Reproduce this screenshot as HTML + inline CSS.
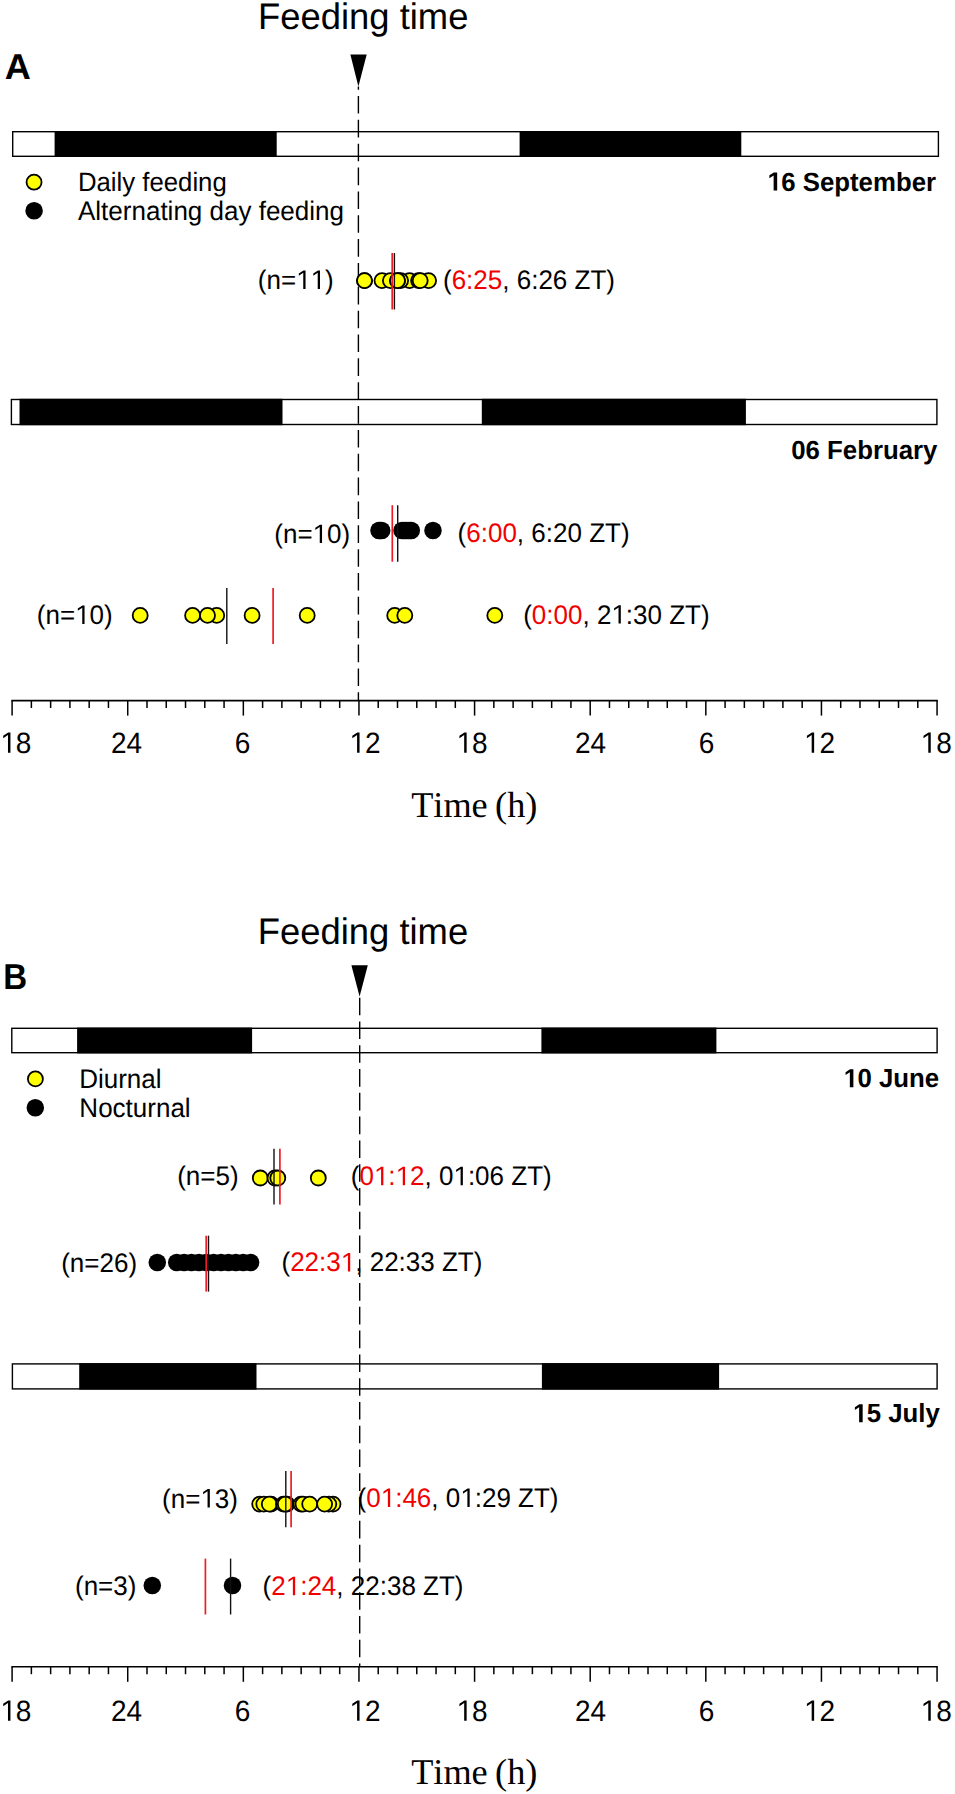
<!DOCTYPE html>
<html><head><meta charset="utf-8"><style>
html,body{margin:0;padding:0;background:#fff;overflow:hidden;}
svg{display:block;}
text{font-family:"Liberation Sans", sans-serif;fill:#000;text-rendering:geometricPrecision;font-kerning:none;}
</style></head><body>
<svg width="955" height="1794" viewBox="0 0 955 1794">
<rect width="955" height="1794" fill="#fff"/>
<polygon points="350.40,54.60 366.70,54.60 358.40,86.40" fill="#000"/>
<line x1="358.40" y1="86.40" x2="358.40" y2="700.60" stroke="#000" stroke-width="1.4" stroke-dasharray="17.6 6.25" stroke-dashoffset="14.27"/>
<rect x="54.60" y="131.00" width="222.10" height="26.00" fill="#000"/>
<rect x="519.60" y="131.00" width="221.70" height="26.00" fill="#000"/>
<rect x="12.70" y="131.70" width="925.70" height="24.60" fill="none" stroke="#000" stroke-width="1.4"/>
<rect x="19.50" y="398.80" width="263.00" height="26.40" fill="#000"/>
<rect x="481.80" y="398.80" width="264.10" height="26.40" fill="#000"/>
<rect x="11.40" y="399.50" width="925.50" height="25.00" fill="none" stroke="#000" stroke-width="1.4"/>
<circle cx="34.05" cy="182.20" r="7.5" fill="#ffff00" stroke="#000" stroke-width="1.8"/>
<circle cx="34.10" cy="210.80" r="8.75" fill="#000"/>
<circle cx="364.50" cy="280.60" r="7.5" fill="#ffff00" stroke="#000" stroke-width="1.8"/>
<circle cx="382.00" cy="280.60" r="7.5" fill="#ffff00" stroke="#000" stroke-width="1.8"/>
<circle cx="390.40" cy="280.60" r="7.5" fill="#ffff00" stroke="#000" stroke-width="1.8"/>
<circle cx="409.50" cy="280.60" r="7.5" fill="#ffff00" stroke="#000" stroke-width="1.8"/>
<circle cx="400.60" cy="280.60" r="7.5" fill="#ffff00" stroke="#000" stroke-width="1.8"/>
<circle cx="397.50" cy="280.60" r="7.5" fill="#ffff00" stroke="#000" stroke-width="1.8"/>
<circle cx="397.50" cy="280.60" r="7.5" fill="#ffff00" stroke="#000" stroke-width="1.8"/>
<circle cx="428.60" cy="280.60" r="7.5" fill="#ffff00" stroke="#000" stroke-width="1.8"/>
<circle cx="418.60" cy="280.60" r="7.5" fill="#ffff00" stroke="#000" stroke-width="1.8"/>
<circle cx="420.20" cy="280.60" r="7.5" fill="#ffff00" stroke="#000" stroke-width="1.8"/>
<circle cx="364.50" cy="280.60" r="7.5" fill="#ffff00" stroke="#000" stroke-width="1.8"/>
<line x1="392.20" y1="253.00" x2="392.20" y2="309.50" stroke="#ee1c24" stroke-width="1.7" />
<line x1="394.40" y1="253.00" x2="394.40" y2="309.50" stroke="#111" stroke-width="1.4" />
<circle cx="379.00" cy="530.50" r="8.75" fill="#000"/>
<circle cx="381.70" cy="530.50" r="8.75" fill="#000"/>
<circle cx="402.00" cy="530.50" r="8.75" fill="#000"/>
<circle cx="404.00" cy="530.50" r="8.75" fill="#000"/>
<circle cx="406.00" cy="530.50" r="8.75" fill="#000"/>
<circle cx="408.00" cy="530.50" r="8.75" fill="#000"/>
<circle cx="410.00" cy="530.50" r="8.75" fill="#000"/>
<circle cx="411.30" cy="530.50" r="8.75" fill="#000"/>
<circle cx="433.00" cy="530.50" r="8.75" fill="#000"/>
<circle cx="380.00" cy="530.50" r="8.75" fill="#000"/>
<line x1="392.30" y1="505.20" x2="392.30" y2="561.70" stroke="#ee1c24" stroke-width="1.7" />
<line x1="397.70" y1="505.20" x2="397.70" y2="561.70" stroke="#111" stroke-width="1.4" />
<circle cx="140.20" cy="615.40" r="7.5" fill="#ffff00" stroke="#000" stroke-width="1.8"/>
<circle cx="192.60" cy="615.40" r="7.5" fill="#ffff00" stroke="#000" stroke-width="1.8"/>
<circle cx="216.70" cy="615.40" r="7.5" fill="#ffff00" stroke="#000" stroke-width="1.8"/>
<circle cx="207.50" cy="615.40" r="7.5" fill="#ffff00" stroke="#000" stroke-width="1.8"/>
<circle cx="252.10" cy="615.40" r="7.5" fill="#ffff00" stroke="#000" stroke-width="1.8"/>
<circle cx="307.20" cy="615.40" r="7.5" fill="#ffff00" stroke="#000" stroke-width="1.8"/>
<circle cx="394.70" cy="615.40" r="7.5" fill="#ffff00" stroke="#000" stroke-width="1.8"/>
<circle cx="404.80" cy="615.40" r="7.5" fill="#ffff00" stroke="#000" stroke-width="1.8"/>
<circle cx="494.80" cy="615.40" r="7.5" fill="#ffff00" stroke="#000" stroke-width="1.8"/>
<line x1="273.10" y1="588.10" x2="273.10" y2="643.90" stroke="#ee1c24" stroke-width="1.7" />
<line x1="226.80" y1="588.10" x2="226.80" y2="643.90" stroke="#111" stroke-width="1.4" />
<line x1="11.35" y1="700.60" x2="937.81" y2="700.60" stroke="#000" stroke-width="1.6" />
<line x1="12.10" y1="700.60" x2="12.10" y2="715.60" stroke="#000" stroke-width="1.5" />
<line x1="31.37" y1="700.60" x2="31.37" y2="708.00" stroke="#000" stroke-width="1.5" />
<line x1="50.64" y1="700.60" x2="50.64" y2="708.00" stroke="#000" stroke-width="1.5" />
<line x1="69.91" y1="700.60" x2="69.91" y2="708.00" stroke="#000" stroke-width="1.5" />
<line x1="89.18" y1="700.60" x2="89.18" y2="708.00" stroke="#000" stroke-width="1.5" />
<line x1="108.45" y1="700.60" x2="108.45" y2="708.00" stroke="#000" stroke-width="1.5" />
<line x1="127.72" y1="700.60" x2="127.72" y2="715.60" stroke="#000" stroke-width="1.5" />
<line x1="146.99" y1="700.60" x2="146.99" y2="708.00" stroke="#000" stroke-width="1.5" />
<line x1="166.26" y1="700.60" x2="166.26" y2="708.00" stroke="#000" stroke-width="1.5" />
<line x1="185.53" y1="700.60" x2="185.53" y2="708.00" stroke="#000" stroke-width="1.5" />
<line x1="204.80" y1="700.60" x2="204.80" y2="708.00" stroke="#000" stroke-width="1.5" />
<line x1="224.07" y1="700.60" x2="224.07" y2="708.00" stroke="#000" stroke-width="1.5" />
<line x1="243.34" y1="700.60" x2="243.34" y2="715.60" stroke="#000" stroke-width="1.5" />
<line x1="262.61" y1="700.60" x2="262.61" y2="708.00" stroke="#000" stroke-width="1.5" />
<line x1="281.88" y1="700.60" x2="281.88" y2="708.00" stroke="#000" stroke-width="1.5" />
<line x1="301.15" y1="700.60" x2="301.15" y2="708.00" stroke="#000" stroke-width="1.5" />
<line x1="320.42" y1="700.60" x2="320.42" y2="708.00" stroke="#000" stroke-width="1.5" />
<line x1="339.69" y1="700.60" x2="339.69" y2="708.00" stroke="#000" stroke-width="1.5" />
<line x1="358.96" y1="700.60" x2="358.96" y2="715.60" stroke="#000" stroke-width="1.5" />
<line x1="378.23" y1="700.60" x2="378.23" y2="708.00" stroke="#000" stroke-width="1.5" />
<line x1="397.50" y1="700.60" x2="397.50" y2="708.00" stroke="#000" stroke-width="1.5" />
<line x1="416.77" y1="700.60" x2="416.77" y2="708.00" stroke="#000" stroke-width="1.5" />
<line x1="436.04" y1="700.60" x2="436.04" y2="708.00" stroke="#000" stroke-width="1.5" />
<line x1="455.31" y1="700.60" x2="455.31" y2="708.00" stroke="#000" stroke-width="1.5" />
<line x1="474.58" y1="700.60" x2="474.58" y2="715.60" stroke="#000" stroke-width="1.5" />
<line x1="493.85" y1="700.60" x2="493.85" y2="708.00" stroke="#000" stroke-width="1.5" />
<line x1="513.12" y1="700.60" x2="513.12" y2="708.00" stroke="#000" stroke-width="1.5" />
<line x1="532.39" y1="700.60" x2="532.39" y2="708.00" stroke="#000" stroke-width="1.5" />
<line x1="551.66" y1="700.60" x2="551.66" y2="708.00" stroke="#000" stroke-width="1.5" />
<line x1="570.93" y1="700.60" x2="570.93" y2="708.00" stroke="#000" stroke-width="1.5" />
<line x1="590.20" y1="700.60" x2="590.20" y2="715.60" stroke="#000" stroke-width="1.5" />
<line x1="609.47" y1="700.60" x2="609.47" y2="708.00" stroke="#000" stroke-width="1.5" />
<line x1="628.74" y1="700.60" x2="628.74" y2="708.00" stroke="#000" stroke-width="1.5" />
<line x1="648.01" y1="700.60" x2="648.01" y2="708.00" stroke="#000" stroke-width="1.5" />
<line x1="667.28" y1="700.60" x2="667.28" y2="708.00" stroke="#000" stroke-width="1.5" />
<line x1="686.55" y1="700.60" x2="686.55" y2="708.00" stroke="#000" stroke-width="1.5" />
<line x1="705.82" y1="700.60" x2="705.82" y2="715.60" stroke="#000" stroke-width="1.5" />
<line x1="725.09" y1="700.60" x2="725.09" y2="708.00" stroke="#000" stroke-width="1.5" />
<line x1="744.36" y1="700.60" x2="744.36" y2="708.00" stroke="#000" stroke-width="1.5" />
<line x1="763.63" y1="700.60" x2="763.63" y2="708.00" stroke="#000" stroke-width="1.5" />
<line x1="782.90" y1="700.60" x2="782.90" y2="708.00" stroke="#000" stroke-width="1.5" />
<line x1="802.17" y1="700.60" x2="802.17" y2="708.00" stroke="#000" stroke-width="1.5" />
<line x1="821.44" y1="700.60" x2="821.44" y2="715.60" stroke="#000" stroke-width="1.5" />
<line x1="840.71" y1="700.60" x2="840.71" y2="708.00" stroke="#000" stroke-width="1.5" />
<line x1="859.98" y1="700.60" x2="859.98" y2="708.00" stroke="#000" stroke-width="1.5" />
<line x1="879.25" y1="700.60" x2="879.25" y2="708.00" stroke="#000" stroke-width="1.5" />
<line x1="898.52" y1="700.60" x2="898.52" y2="708.00" stroke="#000" stroke-width="1.5" />
<line x1="917.79" y1="700.60" x2="917.79" y2="708.00" stroke="#000" stroke-width="1.5" />
<line x1="937.06" y1="700.60" x2="937.06" y2="715.60" stroke="#000" stroke-width="1.5" />
<polygon points="351.40,965.30 367.80,965.30 359.60,996.40" fill="#000"/>
<line x1="359.70" y1="997.70" x2="359.70" y2="1666.80" stroke="#000" stroke-width="1.4" stroke-dasharray="17.6 6.18" stroke-dashoffset="0.00"/>
<rect x="77.10" y="1027.60" width="175.00" height="25.80" fill="#000"/>
<rect x="541.40" y="1027.60" width="175.00" height="25.80" fill="#000"/>
<rect x="11.80" y="1028.30" width="925.30" height="24.40" fill="none" stroke="#000" stroke-width="1.4"/>
<rect x="79.20" y="1363.20" width="177.30" height="26.40" fill="#000"/>
<rect x="541.90" y="1363.20" width="177.20" height="26.40" fill="#000"/>
<rect x="12.40" y="1363.90" width="924.70" height="25.00" fill="none" stroke="#000" stroke-width="1.4"/>
<circle cx="35.40" cy="1078.90" r="7.5" fill="#ffff00" stroke="#000" stroke-width="1.8"/>
<circle cx="35.30" cy="1107.70" r="8.75" fill="#000"/>
<circle cx="260.30" cy="1178.00" r="7.5" fill="#ffff00" stroke="#000" stroke-width="1.8"/>
<circle cx="275.00" cy="1178.00" r="7.5" fill="#ffff00" stroke="#000" stroke-width="1.8"/>
<circle cx="277.80" cy="1178.00" r="7.5" fill="#ffff00" stroke="#000" stroke-width="1.8"/>
<circle cx="318.30" cy="1178.00" r="7.5" fill="#ffff00" stroke="#000" stroke-width="1.8"/>
<line x1="279.90" y1="1148.80" x2="279.90" y2="1204.40" stroke="#ee1c24" stroke-width="1.7" />
<line x1="274.00" y1="1148.80" x2="274.00" y2="1204.40" stroke="#111" stroke-width="1.4" />
<circle cx="157.30" cy="1262.50" r="8.75" fill="#000"/>
<circle cx="176.70" cy="1262.50" r="8.75" fill="#000"/>
<circle cx="184.09" cy="1262.50" r="8.75" fill="#000"/>
<circle cx="191.48" cy="1262.50" r="8.75" fill="#000"/>
<circle cx="198.87" cy="1262.50" r="8.75" fill="#000"/>
<circle cx="206.26" cy="1262.50" r="8.75" fill="#000"/>
<circle cx="213.65" cy="1262.50" r="8.75" fill="#000"/>
<circle cx="221.04" cy="1262.50" r="8.75" fill="#000"/>
<circle cx="228.43" cy="1262.50" r="8.75" fill="#000"/>
<circle cx="235.82" cy="1262.50" r="8.75" fill="#000"/>
<circle cx="243.21" cy="1262.50" r="8.75" fill="#000"/>
<circle cx="250.60" cy="1262.50" r="8.75" fill="#000"/>
<line x1="206.20" y1="1235.70" x2="206.20" y2="1291.60" stroke="#ee1c24" stroke-width="1.7" />
<line x1="208.50" y1="1235.70" x2="208.50" y2="1291.60" stroke="#111" stroke-width="1.4" />
<circle cx="259.70" cy="1504.10" r="7.5" fill="#ffff00" stroke="#000" stroke-width="1.8"/>
<circle cx="263.80" cy="1504.10" r="7.5" fill="#ffff00" stroke="#000" stroke-width="1.8"/>
<circle cx="271.00" cy="1504.10" r="7.5" fill="#ffff00" stroke="#000" stroke-width="1.8"/>
<circle cx="269.30" cy="1504.10" r="7.5" fill="#ffff00" stroke="#000" stroke-width="1.8"/>
<circle cx="283.50" cy="1504.10" r="7.5" fill="#ffff00" stroke="#000" stroke-width="1.8"/>
<circle cx="287.00" cy="1504.10" r="7.5" fill="#ffff00" stroke="#000" stroke-width="1.8"/>
<circle cx="285.30" cy="1504.10" r="7.5" fill="#ffff00" stroke="#000" stroke-width="1.8"/>
<circle cx="301.00" cy="1504.10" r="7.5" fill="#ffff00" stroke="#000" stroke-width="1.8"/>
<circle cx="303.00" cy="1504.10" r="7.5" fill="#ffff00" stroke="#000" stroke-width="1.8"/>
<circle cx="309.70" cy="1504.10" r="7.5" fill="#ffff00" stroke="#000" stroke-width="1.8"/>
<circle cx="333.00" cy="1504.10" r="7.5" fill="#ffff00" stroke="#000" stroke-width="1.8"/>
<circle cx="328.80" cy="1504.10" r="7.5" fill="#ffff00" stroke="#000" stroke-width="1.8"/>
<circle cx="324.60" cy="1504.10" r="7.5" fill="#ffff00" stroke="#000" stroke-width="1.8"/>
<line x1="291.10" y1="1471.00" x2="291.10" y2="1527.20" stroke="#ee1c24" stroke-width="1.7" />
<line x1="285.80" y1="1471.00" x2="285.80" y2="1527.20" stroke="#111" stroke-width="1.4" />
<circle cx="152.30" cy="1585.50" r="8.75" fill="#000"/>
<circle cx="232.50" cy="1585.50" r="8.75" fill="#000"/>
<line x1="205.40" y1="1558.60" x2="205.40" y2="1614.50" stroke="#ee1c24" stroke-width="1.7" />
<line x1="230.60" y1="1558.60" x2="230.60" y2="1614.50" stroke="#111" stroke-width="1.4" />
<line x1="11.35" y1="1666.80" x2="937.81" y2="1666.80" stroke="#000" stroke-width="1.6" />
<line x1="12.10" y1="1666.80" x2="12.10" y2="1681.80" stroke="#000" stroke-width="1.5" />
<line x1="31.37" y1="1666.80" x2="31.37" y2="1674.20" stroke="#000" stroke-width="1.5" />
<line x1="50.64" y1="1666.80" x2="50.64" y2="1674.20" stroke="#000" stroke-width="1.5" />
<line x1="69.91" y1="1666.80" x2="69.91" y2="1674.20" stroke="#000" stroke-width="1.5" />
<line x1="89.18" y1="1666.80" x2="89.18" y2="1674.20" stroke="#000" stroke-width="1.5" />
<line x1="108.45" y1="1666.80" x2="108.45" y2="1674.20" stroke="#000" stroke-width="1.5" />
<line x1="127.72" y1="1666.80" x2="127.72" y2="1681.80" stroke="#000" stroke-width="1.5" />
<line x1="146.99" y1="1666.80" x2="146.99" y2="1674.20" stroke="#000" stroke-width="1.5" />
<line x1="166.26" y1="1666.80" x2="166.26" y2="1674.20" stroke="#000" stroke-width="1.5" />
<line x1="185.53" y1="1666.80" x2="185.53" y2="1674.20" stroke="#000" stroke-width="1.5" />
<line x1="204.80" y1="1666.80" x2="204.80" y2="1674.20" stroke="#000" stroke-width="1.5" />
<line x1="224.07" y1="1666.80" x2="224.07" y2="1674.20" stroke="#000" stroke-width="1.5" />
<line x1="243.34" y1="1666.80" x2="243.34" y2="1681.80" stroke="#000" stroke-width="1.5" />
<line x1="262.61" y1="1666.80" x2="262.61" y2="1674.20" stroke="#000" stroke-width="1.5" />
<line x1="281.88" y1="1666.80" x2="281.88" y2="1674.20" stroke="#000" stroke-width="1.5" />
<line x1="301.15" y1="1666.80" x2="301.15" y2="1674.20" stroke="#000" stroke-width="1.5" />
<line x1="320.42" y1="1666.80" x2="320.42" y2="1674.20" stroke="#000" stroke-width="1.5" />
<line x1="339.69" y1="1666.80" x2="339.69" y2="1674.20" stroke="#000" stroke-width="1.5" />
<line x1="358.96" y1="1666.80" x2="358.96" y2="1681.80" stroke="#000" stroke-width="1.5" />
<line x1="378.23" y1="1666.80" x2="378.23" y2="1674.20" stroke="#000" stroke-width="1.5" />
<line x1="397.50" y1="1666.80" x2="397.50" y2="1674.20" stroke="#000" stroke-width="1.5" />
<line x1="416.77" y1="1666.80" x2="416.77" y2="1674.20" stroke="#000" stroke-width="1.5" />
<line x1="436.04" y1="1666.80" x2="436.04" y2="1674.20" stroke="#000" stroke-width="1.5" />
<line x1="455.31" y1="1666.80" x2="455.31" y2="1674.20" stroke="#000" stroke-width="1.5" />
<line x1="474.58" y1="1666.80" x2="474.58" y2="1681.80" stroke="#000" stroke-width="1.5" />
<line x1="493.85" y1="1666.80" x2="493.85" y2="1674.20" stroke="#000" stroke-width="1.5" />
<line x1="513.12" y1="1666.80" x2="513.12" y2="1674.20" stroke="#000" stroke-width="1.5" />
<line x1="532.39" y1="1666.80" x2="532.39" y2="1674.20" stroke="#000" stroke-width="1.5" />
<line x1="551.66" y1="1666.80" x2="551.66" y2="1674.20" stroke="#000" stroke-width="1.5" />
<line x1="570.93" y1="1666.80" x2="570.93" y2="1674.20" stroke="#000" stroke-width="1.5" />
<line x1="590.20" y1="1666.80" x2="590.20" y2="1681.80" stroke="#000" stroke-width="1.5" />
<line x1="609.47" y1="1666.80" x2="609.47" y2="1674.20" stroke="#000" stroke-width="1.5" />
<line x1="628.74" y1="1666.80" x2="628.74" y2="1674.20" stroke="#000" stroke-width="1.5" />
<line x1="648.01" y1="1666.80" x2="648.01" y2="1674.20" stroke="#000" stroke-width="1.5" />
<line x1="667.28" y1="1666.80" x2="667.28" y2="1674.20" stroke="#000" stroke-width="1.5" />
<line x1="686.55" y1="1666.80" x2="686.55" y2="1674.20" stroke="#000" stroke-width="1.5" />
<line x1="705.82" y1="1666.80" x2="705.82" y2="1681.80" stroke="#000" stroke-width="1.5" />
<line x1="725.09" y1="1666.80" x2="725.09" y2="1674.20" stroke="#000" stroke-width="1.5" />
<line x1="744.36" y1="1666.80" x2="744.36" y2="1674.20" stroke="#000" stroke-width="1.5" />
<line x1="763.63" y1="1666.80" x2="763.63" y2="1674.20" stroke="#000" stroke-width="1.5" />
<line x1="782.90" y1="1666.80" x2="782.90" y2="1674.20" stroke="#000" stroke-width="1.5" />
<line x1="802.17" y1="1666.80" x2="802.17" y2="1674.20" stroke="#000" stroke-width="1.5" />
<line x1="821.44" y1="1666.80" x2="821.44" y2="1681.80" stroke="#000" stroke-width="1.5" />
<line x1="840.71" y1="1666.80" x2="840.71" y2="1674.20" stroke="#000" stroke-width="1.5" />
<line x1="859.98" y1="1666.80" x2="859.98" y2="1674.20" stroke="#000" stroke-width="1.5" />
<line x1="879.25" y1="1666.80" x2="879.25" y2="1674.20" stroke="#000" stroke-width="1.5" />
<line x1="898.52" y1="1666.80" x2="898.52" y2="1674.20" stroke="#000" stroke-width="1.5" />
<line x1="917.79" y1="1666.80" x2="917.79" y2="1674.20" stroke="#000" stroke-width="1.5" />
<line x1="937.06" y1="1666.80" x2="937.06" y2="1681.80" stroke="#000" stroke-width="1.5" />
<g transform="translate(258.06 28.90) scale(1.0 1.015)"><text font-size="36.4"><tspan fill="#000">Feeding time</tspan></text></g>
<g transform="translate(4.74 78.70) scale(1.033 1.025)"><text font-size="35" font-weight="bold"><tspan fill="#000">A</tspan></text></g>
<g transform="translate(77.89 190.60) scale(1.0 1.03)"><text font-size="25.75"><tspan fill="#000">Daily feeding</tspan></text></g>
<g transform="translate(78.00 219.50) scale(1.0 1.03)"><text font-size="26"><tspan fill="#000">Alternating day feeding</tspan></text></g>
<g transform="translate(766.85 190.50) scale(1.0 1.02)"><text font-size="25.8" font-weight="bold"><tspan fill="#000"> 6 September</tspan></text><path transform="translate(0.000 0) scale(0.01260 -0.01260)" fill="#000" d="M538 0L538 1170L200 959L200 1180L553 1409L819 1409L819 0Z"/></g>
<g transform="translate(257.78 288.90) scale(1.0 1.03)"><text font-size="26"><tspan fill="#000">(n=  )</tspan></text><path transform="translate(38.302 0) scale(0.01270 -0.01270)" fill="#000" d="M565 0L565 1237L215 1010L215 1180L580 1409L745 1409L745 0Z"/><path transform="translate(52.762 0) scale(0.01270 -0.01270)" fill="#000" d="M565 0L565 1237L215 1010L215 1180L580 1409L745 1409L745 0Z"/></g>
<g transform="translate(442.98 289.20) scale(1.0 1.03)"><text font-size="26"><tspan fill="#000">(</tspan><tspan fill="#f00000">6:25</tspan><tspan fill="#000">, 6:26 ZT)</tspan></text></g>
<g transform="translate(791.16 458.60) scale(1.0 1.02)"><text font-size="25.8" font-weight="bold"><tspan fill="#000">06 February</tspan></text></g>
<g transform="translate(274.28 543.10) scale(1.0 1.03)"><text font-size="26"><tspan fill="#000">(n= 0)</tspan></text><path transform="translate(38.302 0) scale(0.01270 -0.01270)" fill="#000" d="M565 0L565 1237L215 1010L215 1180L580 1409L745 1409L745 0Z"/></g>
<g transform="translate(457.58 542.10) scale(1.0 1.03)"><text font-size="26"><tspan fill="#000">(</tspan><tspan fill="#f00000">6:00</tspan><tspan fill="#000">, 6:20 ZT)</tspan></text></g>
<g transform="translate(36.78 624.00) scale(1.0 1.03)"><text font-size="26"><tspan fill="#000">(n= 0)</tspan></text><path transform="translate(38.302 0) scale(0.01270 -0.01270)" fill="#000" d="M565 0L565 1237L215 1010L215 1180L580 1409L745 1409L745 0Z"/></g>
<g transform="translate(523.18 623.60) scale(1.0 1.03)"><text font-size="26"><tspan fill="#000">(</tspan><tspan fill="#f00000">0:00</tspan><tspan fill="#000">, 2 :30 ZT)</tspan></text><path transform="translate(88.169 0) scale(0.01270 -0.01270)" fill="#000" d="M565 0L565 1237L215 1010L215 1180L580 1409L745 1409L745 0Z"/></g>
<g transform="translate(0.26 752.80) scale(1.0 1.05)"><text font-size="28"><tspan fill="#000"> 8</tspan></text><path transform="translate(0.000 0) scale(0.01367 -0.01367)" fill="#000" d="M565 0L565 1237L215 1010L215 1180L580 1409L745 1409L745 0Z"/></g>
<g transform="translate(110.99 752.80) scale(1.0 1.05)"><text font-size="28"><tspan fill="#000">24</tspan></text></g>
<g transform="translate(234.79 752.80) scale(1.0 1.05)"><text font-size="28"><tspan fill="#000">6</tspan></text></g>
<g transform="translate(349.36 752.80) scale(1.0 1.05)"><text font-size="28"><tspan fill="#000"> 2</tspan></text><path transform="translate(0.000 0) scale(0.01367 -0.01367)" fill="#000" d="M565 0L565 1237L215 1010L215 1180L580 1409L745 1409L745 0Z"/></g>
<g transform="translate(456.46 752.80) scale(1.0 1.05)"><text font-size="28"><tspan fill="#000"> 8</tspan></text><path transform="translate(0.000 0) scale(0.01367 -0.01367)" fill="#000" d="M565 0L565 1237L215 1010L215 1180L580 1409L745 1409L745 0Z"/></g>
<g transform="translate(574.99 752.80) scale(1.0 1.05)"><text font-size="28"><tspan fill="#000">24</tspan></text></g>
<g transform="translate(698.79 752.80) scale(1.0 1.05)"><text font-size="28"><tspan fill="#000">6</tspan></text></g>
<g transform="translate(803.96 752.80) scale(1.0 1.05)"><text font-size="28"><tspan fill="#000"> 2</tspan></text><path transform="translate(0.000 0) scale(0.01367 -0.01367)" fill="#000" d="M565 0L565 1237L215 1010L215 1180L580 1409L745 1409L745 0Z"/></g>
<g transform="translate(920.56 752.80) scale(1.0 1.05)"><text font-size="28"><tspan fill="#000"> 8</tspan></text><path transform="translate(0.000 0) scale(0.01367 -0.01367)" fill="#000" d="M565 0L565 1237L215 1010L215 1180L580 1409L745 1409L745 0Z"/></g>
<g transform="translate(411.13 816.90) scale(1.0 1.0)"><text font-size="36.3" style="font-family:'Liberation Serif';word-spacing:-1.7px"><tspan fill="#000">Time (h)</tspan></text></g>
<g transform="translate(257.76 943.80) scale(1.0 1.015)"><text font-size="36.4"><tspan fill="#000">Feeding time</tspan></text></g>
<g transform="translate(3.23 988.60) scale(0.945 1.03)"><text font-size="35" font-weight="bold"><tspan fill="#000">B</tspan></text></g>
<g transform="translate(79.17 1087.80) scale(1.0 1.03)"><text font-size="26"><tspan fill="#000">Diurnal</tspan></text></g>
<g transform="translate(79.37 1116.50) scale(1.0 1.03)"><text font-size="26"><tspan fill="#000">Nocturnal</tspan></text></g>
<g transform="translate(843.06 1087.30) scale(1.0 1.02)"><text font-size="25.8" font-weight="bold"><tspan fill="#000"> 0 June</tspan></text><path transform="translate(0.000 0) scale(0.01260 -0.01260)" fill="#000" d="M538 0L538 1170L200 959L200 1180L553 1409L819 1409L819 0Z"/></g>
<g transform="translate(177.18 1185.00) scale(1.0 1.03)"><text font-size="26"><tspan fill="#000">(n=5)</tspan></text></g>
<g transform="translate(350.78 1185.30) scale(1.0 1.03)"><text font-size="26"><tspan fill="#000">(</tspan><tspan fill="#f00000">0 : 2</tspan><tspan fill="#000">, 0 :06 ZT)</tspan></text><path transform="translate(23.118 0) scale(0.01270 -0.01270)" fill="#f00000" d="M565 0L565 1237L215 1010L215 1180L580 1409L745 1409L745 0Z"/><path transform="translate(44.802 0) scale(0.01270 -0.01270)" fill="#f00000" d="M565 0L565 1237L215 1010L215 1180L580 1409L745 1409L745 0Z"/><path transform="translate(102.629 0) scale(0.01270 -0.01270)" fill="#000" d="M565 0L565 1237L215 1010L215 1180L580 1409L745 1409L745 0Z"/></g>
<g transform="translate(61.18 1271.70) scale(1.0 1.03)"><text font-size="26"><tspan fill="#000">(n=26)</tspan></text></g>
<g transform="translate(281.48 1271.40) scale(1.0 1.03)"><text font-size="26"><tspan fill="#000">(</tspan><tspan fill="#f00000">22:3 </tspan><tspan fill="#000">, 22:33 ZT)</tspan></text><path transform="translate(59.262 0) scale(0.01270 -0.01270)" fill="#f00000" d="M565 0L565 1237L215 1010L215 1180L580 1409L745 1409L745 0Z"/></g>
<g transform="translate(852.35 1422.30) scale(1.0 1.02)"><text font-size="25.8" font-weight="bold"><tspan fill="#000"> 5 July</tspan></text><path transform="translate(0.000 0) scale(0.01260 -0.01260)" fill="#000" d="M538 0L538 1170L200 959L200 1180L553 1409L819 1409L819 0Z"/></g>
<g transform="translate(162.08 1507.50) scale(1.0 1.03)"><text font-size="26"><tspan fill="#000">(n= 3)</tspan></text><path transform="translate(38.302 0) scale(0.01270 -0.01270)" fill="#000" d="M565 0L565 1237L215 1010L215 1180L580 1409L745 1409L745 0Z"/></g>
<g transform="translate(357.58 1506.90) scale(1.0 1.03)"><text font-size="26"><tspan fill="#000">(</tspan><tspan fill="#f00000">0 :46</tspan><tspan fill="#000">, 0 :29 ZT)</tspan></text><path transform="translate(23.118 0) scale(0.01270 -0.01270)" fill="#f00000" d="M565 0L565 1237L215 1010L215 1180L580 1409L745 1409L745 0Z"/><path transform="translate(102.629 0) scale(0.01270 -0.01270)" fill="#000" d="M565 0L565 1237L215 1010L215 1180L580 1409L745 1409L745 0Z"/></g>
<g transform="translate(74.98 1595.30) scale(1.0 1.03)"><text font-size="26"><tspan fill="#000">(n=3)</tspan></text></g>
<g transform="translate(262.58 1595.30) scale(1.0 1.03)"><text font-size="26"><tspan fill="#000">(</tspan><tspan fill="#f00000">2 :24</tspan><tspan fill="#000">, 22:38 ZT)</tspan></text><path transform="translate(23.118 0) scale(0.01270 -0.01270)" fill="#f00000" d="M565 0L565 1237L215 1010L215 1180L580 1409L745 1409L745 0Z"/></g>
<g transform="translate(0.26 1720.80) scale(1.0 1.05)"><text font-size="28"><tspan fill="#000"> 8</tspan></text><path transform="translate(0.000 0) scale(0.01367 -0.01367)" fill="#000" d="M565 0L565 1237L215 1010L215 1180L580 1409L745 1409L745 0Z"/></g>
<g transform="translate(110.99 1720.80) scale(1.0 1.05)"><text font-size="28"><tspan fill="#000">24</tspan></text></g>
<g transform="translate(234.79 1720.80) scale(1.0 1.05)"><text font-size="28"><tspan fill="#000">6</tspan></text></g>
<g transform="translate(349.36 1720.80) scale(1.0 1.05)"><text font-size="28"><tspan fill="#000"> 2</tspan></text><path transform="translate(0.000 0) scale(0.01367 -0.01367)" fill="#000" d="M565 0L565 1237L215 1010L215 1180L580 1409L745 1409L745 0Z"/></g>
<g transform="translate(456.46 1720.80) scale(1.0 1.05)"><text font-size="28"><tspan fill="#000"> 8</tspan></text><path transform="translate(0.000 0) scale(0.01367 -0.01367)" fill="#000" d="M565 0L565 1237L215 1010L215 1180L580 1409L745 1409L745 0Z"/></g>
<g transform="translate(574.99 1720.80) scale(1.0 1.05)"><text font-size="28"><tspan fill="#000">24</tspan></text></g>
<g transform="translate(698.79 1720.80) scale(1.0 1.05)"><text font-size="28"><tspan fill="#000">6</tspan></text></g>
<g transform="translate(803.96 1720.80) scale(1.0 1.05)"><text font-size="28"><tspan fill="#000"> 2</tspan></text><path transform="translate(0.000 0) scale(0.01367 -0.01367)" fill="#000" d="M565 0L565 1237L215 1010L215 1180L580 1409L745 1409L745 0Z"/></g>
<g transform="translate(920.56 1720.80) scale(1.0 1.05)"><text font-size="28"><tspan fill="#000"> 8</tspan></text><path transform="translate(0.000 0) scale(0.01367 -0.01367)" fill="#000" d="M565 0L565 1237L215 1010L215 1180L580 1409L745 1409L745 0Z"/></g>
<g transform="translate(411.13 1783.80) scale(1.0 1.0)"><text font-size="36.3" style="font-family:'Liberation Serif';word-spacing:-1.7px"><tspan fill="#000">Time (h)</tspan></text></g>
</svg>
</body></html>
